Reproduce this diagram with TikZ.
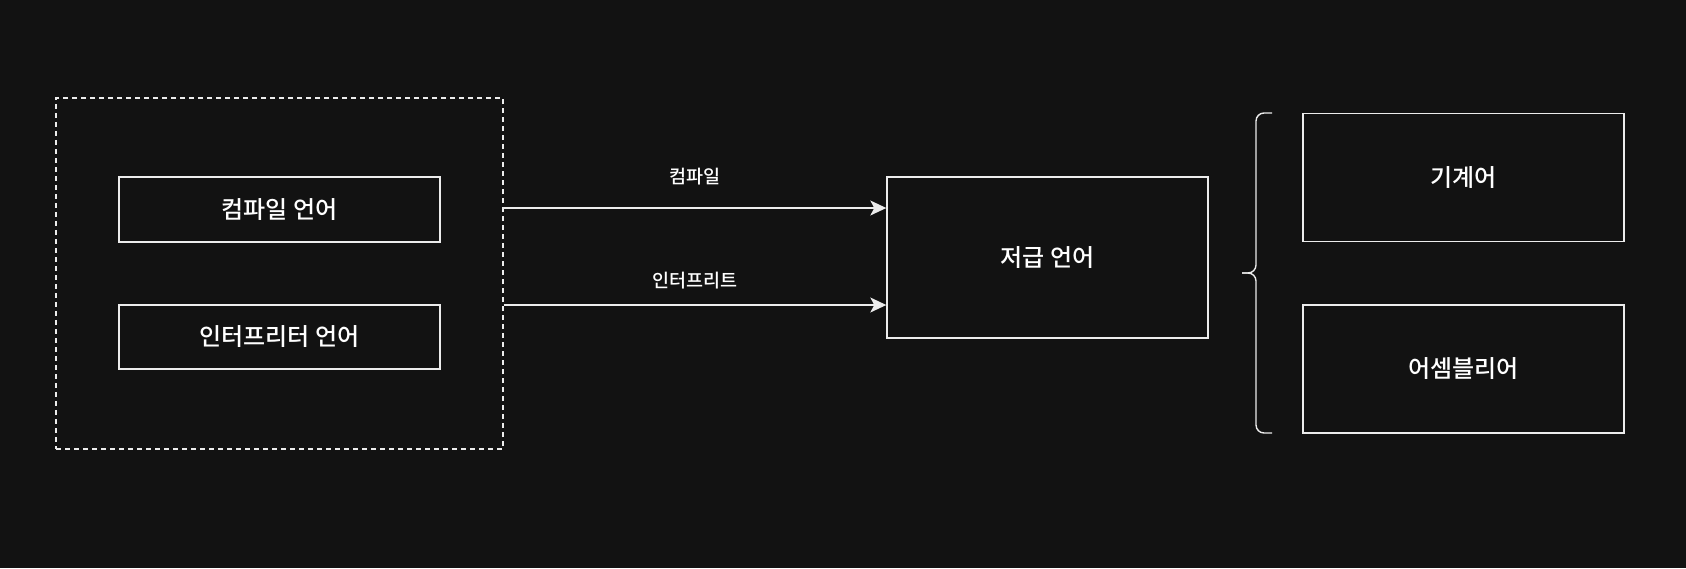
\documentclass[tikz,border=0pt]{standalone}
\usepackage{fontspec}
\setmainfont{Noto Sans CJK KR Medium}
\usepackage{tikz}
\usetikzlibrary{arrows.meta,positioning,calc}
\definecolor{bgdark}{RGB}{18,18,18}
\definecolor{lineclr}{RGB}{236,236,236}
\tikzset{
  langbox/.style={draw=lineclr,line width=1.4pt,rectangle,minimum width=321pt,inner sep=0pt,
    text=white,font=\fontsize{24}{28}\selectfont},
  groupbox/.style={draw=lineclr,line width=1.4pt,dashed,dash pattern=on 5pt off 4pt,rectangle,
    minimum width=447pt,minimum height=351pt,inner sep=0pt},
  arr/.style={-{Stealth[length=16pt,width=15pt,inset=4pt]},line width=1.4pt,draw=lineclr},
  arrlabel/.style={text=white,font=\fontsize{18.5}{22}\selectfont},
  bracepath/.style={line width=1.4pt,draw=lineclr,rounded corners=8pt}
}
\begin{document}
\begin{tikzpicture}[x=1pt,y=-1pt]
  \fill[bgdark] (0,0) rectangle (1686,568);
  \useasboundingbox (0,0) rectangle (1686,568);

  % source languages
  \node[groupbox] (src) at (279.5,273.5) {};
  \node[langbox,minimum height=65pt] (compiled) at (279.5,209.5) {컴파일 언어};
  \node[langbox,minimum height=64pt] (interp) at (279.5,337) {인터프리터 언어};

  % target
  \node[langbox,minimum height=161pt] (low) at (1047.5,257.5) {저급 언어};

  \coordinate (lowA) at ($(low.west)+(0,-49.5)$);
  \coordinate (lowB) at ($(low.west)+(0,47.5)$);

  \draw[arr] (src.east |- lowA) -- (lowA)
    node[midway,arrlabel,yshift=31pt] (lblA) {컴파일};
  \draw[arr] (src.east |- lowB) -- (lowB)
    node[midway,arrlabel,yshift=24pt] (lblB) {인터프리트};

  % kinds of low-level languages
  \node[langbox,minimum height=128pt] (machine) at (1463.5,177.5) {기계어};
  \node[langbox,minimum height=128pt] (asm) at (1463.5,369) {어셈블리어};

  % brace
  \coordinate (brTop) at (1272,113);
  \coordinate (brBot) at (1272,433);
  \coordinate (brTip) at (1242,273);
  \draw[bracepath] (brTop) -- (1256,113) -- (1256,273) -- (brTip);
  \draw[bracepath] (brBot) -- (1256,433) -- (1256,273) -- (brTip);
\end{tikzpicture}
\end{document}
